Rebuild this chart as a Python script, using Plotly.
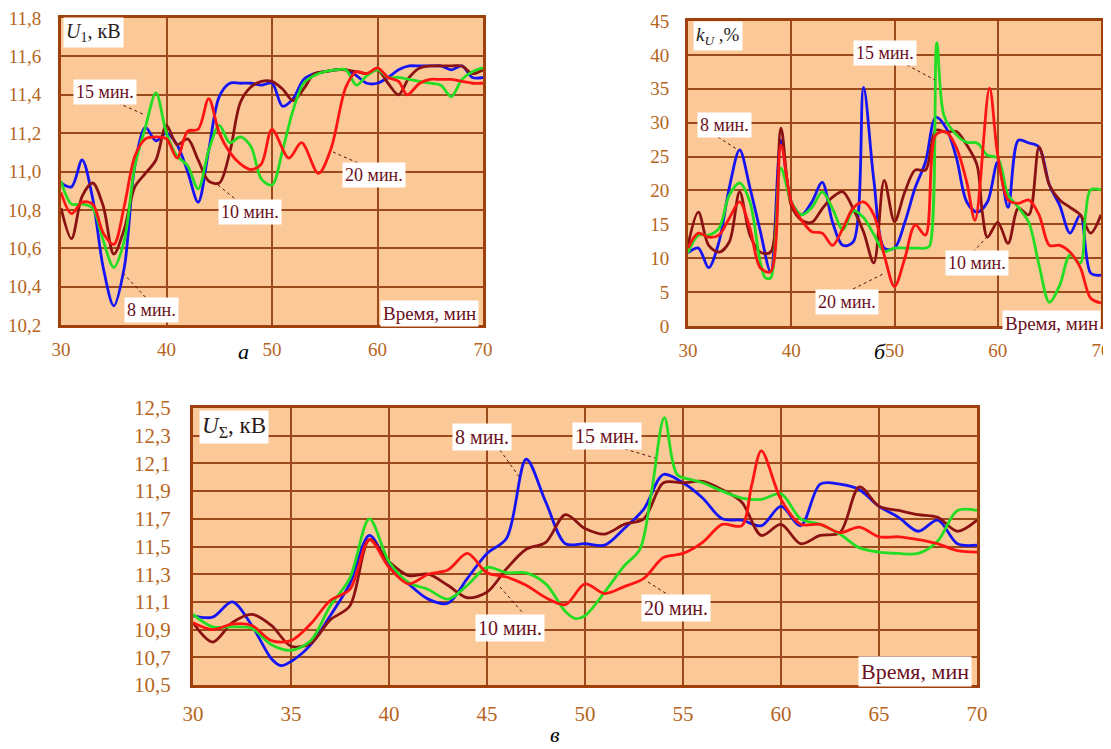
import plotly.graph_objects as go

# ---------------- DATA ----------------
# Panel a: U1, kV
A_X = list(range(30, 71))
A_8 = [10.94, 10.92, 11.06, 10.86, 10.50, 10.30, 10.50, 11.03, 11.23, 11.16, 11.20,
       11.14, 11.00, 10.84, 11.11, 11.39, 11.46, 11.46, 11.46, 11.45, 11.46, 11.34,
       11.38, 11.48, 11.51, 11.52, 11.53, 11.53, 11.50, 11.46, 11.46, 11.49, 11.53,
       11.55, 11.55, 11.55, 11.55, 11.53, 11.55, 11.49, 11.49]
A_10 = [10.81, 10.65, 10.87, 10.94, 10.82, 10.57, 10.70, 10.92, 10.99, 11.06, 11.24,
        11.14, 11.17, 11.06, 10.95, 10.94, 11.10, 11.36, 11.44, 11.47, 11.47, 11.43,
        11.37, 11.43, 11.51, 11.52, 11.53, 11.53, 11.52, 11.51, 11.53, 11.46, 11.40,
        11.49, 11.54, 11.55, 11.55, 11.55, 11.55, 11.51, 11.53]
A_15 = [10.95, 10.83, 10.83, 10.81, 10.64, 10.50, 10.64, 11.03, 11.23, 11.41, 11.20,
        11.08, 11.03, 10.91, 11.11, 11.24, 11.15, 11.18, 11.13, 10.96, 10.93, 11.11,
        11.32, 11.46, 11.50, 11.52, 11.53, 11.53, 11.45, 11.50, 11.53, 11.49, 11.49,
        11.48, 11.47, 11.46, 11.45, 11.39, 11.48, 11.52, 11.54]
A_X20 = [30, 31, 32, 33, 34, 35, 36, 37, 38, 39, 40, 41, 42, 43, 44, 45, 46, 47, 48, 49,
         50, 51.6, 52.8, 54.4, 55.6, 57, 58, 59, 60, 61, 62, 62.8, 64, 65, 66, 67, 68,
         69, 70]
A_20 = [10.89, 10.78, 10.84, 10.83, 10.68, 10.62, 10.82, 11.08, 11.17, 11.18, 11.17,
        11.07, 11.21, 11.22, 11.38, 11.20, 11.10, 11.04, 11.01, 11.04, 11.22, 11.07,
        11.15, 10.99, 11.12, 11.44, 11.52, 11.51, 11.54, 11.49, 11.47, 11.40, 11.46,
        11.48, 11.48, 11.48, 11.47, 11.46, 11.46]

# Panel b: kU, %
B_X = list(range(30, 71))
B_8 = [10.8, 11.5, 8.6, 12.4, 20.4, 26.0, 20.4, 14.0, 8.0, 27.4, 18.3, 16.4, 18.3,
       21.2, 15.3, 11.9, 12.4, 35.2, 21.5, 11.5, 11.5, 15.3, 20.4, 24.2, 30.8, 29.2,
       24.8, 18.3, 16.8, 18.3, 24.2, 17.5, 27.4, 27.0, 26.4, 20.8, 17.8, 13.7, 16.4,
       7.8, 7.5]
B_X10 = [30, 31, 32, 33, 34, 35, 36, 37, 38, 39, 40, 41, 42, 43, 44, 45, 46, 47, 48, 49,
         50, 51, 52, 53, 54, 55, 56, 57, 58, 58.5, 59, 60, 61, 62, 63, 64, 65, 66, 67,
         68, 69, 70]
B_10 = [11.9, 16.8, 11.9, 10.9, 12.4, 19.8, 13.4, 10.9, 10.9, 29.2, 17.8, 15.6, 15.3,
        17.3, 19.0, 19.8, 17.3, 13.9, 9.3, 21.5, 15.4, 19.8, 23.0, 23.0, 28.9, 28.6,
        28.7, 26.7, 23.7, 16.8, 13.1, 15.3, 12.2, 17.4, 16.4, 26.4, 20.8, 18.6, 17.5,
        16.4, 13.7, 16.4]
B_X15 = [30, 31, 32, 33, 34, 35, 36, 37, 37.5, 38, 39, 40, 41, 42, 43, 44, 45, 46, 47,
         48, 49, 50, 51, 52, 53, 53.4, 54.1, 54.8, 56, 57, 58, 59, 60, 61, 62, 63, 64,
         65, 66, 67, 68, 68.5, 69, 70]
B_15 = [10.8, 13.4, 13.4, 14.4, 19.3, 21.1, 18.3, 9.4, 7.1, 7.1, 23.3, 18.3, 16.4, 17.5,
        19.8, 17.3, 14.2, 17.0, 16.0, 13.5, 11.0, 11.5, 11.5, 11.5, 11.5, 11.8, 41.8,
        31.0, 28.2, 27.1, 27.0, 25.2, 24.8, 19.3, 17.5, 15.3, 9.0, 3.5, 6.0, 10.5, 9.3,
        16.4, 20.1, 20.1]
B_X20 = [30, 31, 32, 33, 34, 35, 36, 37, 38, 39, 40, 41, 42, 43, 44, 45, 46, 47, 48, 49,
         50, 51, 52, 53, 54, 55, 56, 57, 57.8, 59.2, 60, 61, 62, 63, 64, 65, 66, 67, 68,
         69, 70]
B_20 = [11.5, 13.7, 13.1, 13.4, 15.9, 18.3, 14.4, 8.6, 8.0, 26.7, 18.3, 15.6, 13.9,
        13.7, 11.9, 14.4, 17.4, 18.3, 16.4, 10.5, 5.8, 10.0, 14.9, 13.4, 28.2, 28.6,
        26.3, 21.2, 15.6, 35.1, 25.2, 18.6, 18.1, 18.6, 16.4, 11.9, 11.9, 10.9, 8.6,
        4.1, 3.4]

# Panel c: U_sum, kV
C_X8 = [30, 31, 32, 33, 34, 34.5, 35, 36, 37, 38, 39, 40, 41, 42, 43, 44, 45, 46, 47,
        48, 49, 50, 51, 52, 53, 54, 55, 56, 57, 58, 59, 60, 61, 62, 63, 64, 65, 66, 67,
        68, 69, 70]
C_8 = [11.00, 10.99, 11.10, 10.93, 10.69, 10.64, 10.67, 10.79, 11.00, 11.23, 11.58,
       11.36, 11.23, 11.12, 11.09, 11.27, 11.45, 11.56, 12.13, 11.82, 11.52, 11.52,
       11.51, 11.63, 11.77, 12.02, 11.96, 11.85, 11.70, 11.69, 11.65, 11.79, 11.65,
       11.95, 11.95, 11.91, 11.79, 11.71, 11.61, 11.69, 11.52, 11.51]
C_X = list(range(30, 71))
C_10 = [10.95, 10.81, 10.95, 11.01, 10.93, 10.78, 10.80, 10.97, 11.07, 11.55, 11.39,
        11.29, 11.30, 11.22, 11.13, 11.17, 11.34, 11.48, 11.53, 11.73, 11.63, 11.59,
        11.66, 11.70, 11.96, 11.96, 11.97, 11.91, 11.82, 11.58, 11.66, 11.52, 11.58,
        11.60, 11.93, 11.79, 11.76, 11.73, 11.71, 11.61, 11.69]
C_X15 = [30, 31, 32, 33, 34, 35, 36, 37, 38, 39, 40, 41, 42, 43, 44, 45, 46, 47, 48, 49,
         49.5, 50, 51, 52, 52.8, 53.4, 54.05, 54.7, 55.5, 56, 57, 58, 59, 60, 61, 62, 63,
         64, 65, 66, 67, 68, 69, 70]
C_15 = [11.01, 10.92, 10.92, 10.91, 10.79, 10.75, 10.82, 11.07, 11.27, 11.70, 11.39,
        11.24, 11.19, 11.12, 11.22, 11.35, 11.31, 11.31, 11.23, 11.03, 10.98, 11.00,
        11.17, 11.36, 11.48, 11.90, 12.43, 12.02, 11.98, 11.96, 11.90, 11.85, 11.84,
        11.88, 11.70, 11.66, 11.59, 11.49, 11.46, 11.45, 11.45, 11.54, 11.76, 11.76]
C_X20 = [30, 31, 32, 33, 34, 35, 36, 37, 38, 39, 40, 41, 42, 43, 44, 45, 46, 47, 48, 49,
         50, 51, 52, 53, 54, 55, 56, 57, 58, 58.5, 59, 60, 61, 62, 63, 64, 65, 66, 67,
         68, 69, 70]
C_20 = [10.95, 10.90, 10.94, 10.93, 10.82, 10.82, 10.94, 11.11, 11.19, 11.55, 11.35,
        11.23, 11.30, 11.33, 11.45, 11.31, 11.28, 11.22, 11.13, 11.08, 11.23, 11.16,
        11.21, 11.27, 11.42, 11.45, 11.53, 11.66, 11.65, 11.94, 12.19, 11.84, 11.66,
        11.66, 11.60, 11.64, 11.57, 11.57, 11.55, 11.52, 11.47, 11.46]

SERIES_NAMES = ["8 мин.", "10 мин.", "15 мин.", "20 мин."]
COLORS = ["#1414F5", "#8B1212", "#22DD22", "#FF1414"]

# ---------------- FIGURE ----------------
# the page body has an 8px margin, so the figure is made 8px smaller and
# all page-pixel positions are shifted by that offset
OFF = 8
W, H = 1111 - OFF, 749 - OFF
def px(x):
    return (x - OFF) / W
def py(y):
    return 1 - (y - OFF) / H

fig = go.Figure()

panels = [
    ("x", "y", [(A_X, A_8), (A_X, A_10), (A_X, A_15), (A_X20, A_20)]),
    ("x2", "y2", [(B_X, B_8), (B_X10, B_10), (B_X15, B_15), (B_X20, B_20)]),
    ("x3", "y3", [(C_X8, C_8), (C_X, C_10), (C_X15, C_15), (C_X20, C_20)]),
]
for xa, ya, series in panels:
    for (xs, ys), name, col in zip(series, SERIES_NAMES, COLORS):
        fig.add_trace(go.Scatter(x=xs, y=ys, mode="lines", name=name, xaxis=xa, yaxis=ya,
                                 line=dict(color=col, width=2.8, shape="spline", smoothing=0.9),
                                 showlegend=False, hoverinfo="skip"))

BG = "#FBC898"
FRAME = "#A0410D"
GRID = "#9C4A1C"
TICKC = "#B5651D"
SERIF = "Liberation Serif"

def xaxis(domain, dtick, size, standoff, anchor):
    return dict(domain=domain, range=[30, 70], dtick=dtick, tick0=30, showgrid=True,
                gridcolor=GRID, gridwidth=2, showline=True, mirror=True, linewidth=3,
                linecolor=FRAME, zeroline=False, ticks="", automargin=False,
                ticklabeloverflow="allow",
                tickfont=dict(family=SERIF, size=size, color=TICKC),
                ticklabelstandoff=standoff, anchor=anchor, fixedrange=True)

def yaxis(domain, rng, dtick, tick0, fmt, size, standoff, anchor):
    return dict(domain=domain, range=rng, dtick=dtick, tick0=tick0, tickformat=fmt,
                showgrid=True, gridcolor=GRID, gridwidth=2, showline=True, mirror=True,
                linewidth=3, linecolor=FRAME, zeroline=False, ticks="", automargin=False,
                ticklabeloverflow="allow",
                tickfont=dict(family=SERIF, size=size, color=TICKC),
                ticklabelstandoff=standoff, anchor=anchor, fixedrange=True)

fig.update_layout(
    template="none",
    width=W, height=H, margin=dict(l=0, r=0, t=0, b=0, autoexpand=False),
    paper_bgcolor="white", plot_bgcolor=BG, separators=", ",
    xaxis=xaxis([px(61), px(483)], 10, 19, 5, "y"),
    yaxis=yaxis([py(325), py(18)], [10.2, 11.8], 0.2, 10.2, ".1f", 19, 13, "x"),
    xaxis2=xaxis([px(688), px(1101)], 10, 19, 5, "y2"),
    yaxis2=yaxis([py(326), py(21)], [0, 45], 5, 0, "d", 19, 12, "x2"),
    xaxis3=xaxis([px(193), px(977)], 5, 21, 8, "y3"),
    yaxis3=yaxis([py(685), py(408)], [10.5, 12.5], 0.2, 10.5, ".1f", 21, 15, "x3"),
)

LBL = "#6B1020"
annos = []
def box(text, cx, cy, size, color=LBL, xanchor="center"):
    annos.append(dict(text=text, x=px(cx), y=py(cy), xref="paper", yref="paper",
                      xanchor=xanchor, yanchor="middle", showarrow=False,
                      bgcolor="white", borderpad=2,
                      font=dict(family=SERIF, size=size, color=color)))

# axis titles
box("<i>U</i><sub>1</sub>, кВ", 63, 33, 20, "#2A1A1A", "left")
box("<i>k</i><sub><i>U</i></sub> ,%", 693, 36, 19, "#2A1A1A", "left")
box("<i>U</i><sub>Σ</sub>, кВ", 199, 427, 23, "#2A1A1A", "left")
box("Время, мин", 429, 313, 19)
box("Время, мин", 1051, 323, 19)
box("Время, мин", 915, 671, 22)

# series labels
box("15 мин.", 105, 92, 18)
box("8 мин.", 151, 310, 18)
box("10 мин.", 250, 212, 18)
box("20 мин.", 374, 175, 18)
box("15 мин.", 885, 53, 18)
box("8 мин.", 724, 125, 18)
box("10 мин.", 977, 263, 18)
box("20 мин.", 847, 302, 18)
box("8 мин.", 482, 437, 20)
box("15 мин.", 607, 436, 20)
box("10 мин.", 510, 628, 20)
box("20 мин.", 676, 608, 20)

# captions
for t, cx, cy in [("а", 243, 352), ("б", 880, 352), ("в", 555, 734)]:
    annos.append(dict(text="<i>" + t + "</i>", x=px(cx), y=py(cy), xref="paper", yref="paper",
                      xanchor="center", yanchor="middle", showarrow=False,
                      font=dict(family=SERIF, size=22, color="black")))

fig.update_layout(annotations=annos)

# leader lines
leaders = [((118, 103), (145, 115)), ((123, 273), (148, 300)), ((218, 185), (240, 203)),
           ((333, 152), (358, 163)), ((907, 65), (935, 80)), ((718, 137), (738, 150)),
           ((973, 252), (987, 237)), ((853, 289), (885, 273)), ((500, 450), (520, 478)),
           ((625, 449), (655, 458)), ((500, 587), (523, 613)), ((648, 582), (670, 596))]
shapes = []
for (x0, y0), (x1, y1) in leaders:
    shapes.append(dict(type="line", xref="paper", yref="paper", x0=px(x0), y0=py(y0),
                       x1=px(x1), y1=py(y1), line=dict(color="#5A1010", width=1, dash="dot"),
                       layer="above"))
fig.update_layout(shapes=shapes)

fig.write_html("out.html")
